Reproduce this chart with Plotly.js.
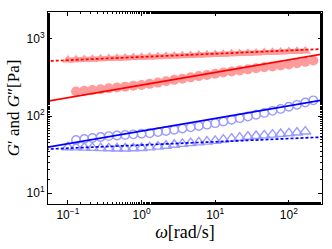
<!DOCTYPE html>
<html><head><meta charset="utf-8">
<script src="https://cdn.plot.ly/plotly-3.0.1.min.js"></script>
<style>html,body{margin:0;padding:0;background:#fff}#c{width:332px;height:249px}</style>
</head><body><div id="c"></div>
<script>
// frequencies (rad/s)
const omegaTri = [0.1,0.129,0.167,0.215,0.278,0.359,0.464,0.599,0.774,1.0,1.29,1.67,2.15,2.78,3.59,4.64,5.99,7.74,10,12.9,16.7,21.5,27.8,35.9,46.4,59.9,77.4,100,129,167];
const omegaCirc = [0.129,0.167,0.215,0.278,0.359,0.464,0.599,0.774,1.0,1.29,1.67,2.15,2.78,3.59,4.64,5.99,7.74,10,12.9,16.7,21.5,27.8,35.9,46.4,59.9,77.4,100,129,167,215];
// sample A (red)
const redGpp = [533,538,543,548,553,558,563,568,574,579,585,590,596,601,607,613,619,624,630,636,642,648,654,660,667,673,679,686,692,698];
const redGp = [208,213,218,223,229,235,241,247,253,262,272,283,295,306,318,330,342,355,367,379,391,404,417,429,441,454,468,485,505,525];
// sample B (blue)
const blueGpp = [39.5,39.3,39.0,38.7,38.4,38.2,38.0,38.0,38.2,38.6,39.3,40.2,41.3,42.5,43.6,44.6,45.6,46.6,47.7,49.5,51,52.5,54,55.2,56.3,57.5,58.6,59.8,61.2,63];
const blueGp = [49,50.5,52,53.5,55,56,57,58,59,60,62,64,66.5,69,71.5,74.5,77.5,81,85,89.5,94,99,104,110,117,124,132,140,150,160];
// model fits
const fitOmega = [0.05,300];
const redFitGp = [155,645];
const redFitGpp = [516,743];
const blueFitGp = [39.1,163];
const blueFitGpp = [37.2,53.5];
// axis ticks
const xTickVals = [0.1,1,10,100];
const xTickText = ['10<sup>−1</sup>','10<sup>0</sup>','10<sup>1</sup>','10<sup>2</sup>'];
const yTickVals = [10,100,1000];
const yTickText = ['10<sup>1</sup>','10<sup>2</sup>','10<sup>3</sup>'];

const lightRed = 'rgb(255,155,155)';
const lightBlue = 'rgb(155,155,255)';
const traces = [
  {x: omegaTri, y: redGpp, mode:'lines+markers', line:{color:lightRed,width:5},
   marker:{symbol:'triangle-up',size:10,color:lightRed}},
  {x: omegaCirc, y: redGp, mode:'lines+markers', line:{color:lightRed,width:5},
   marker:{symbol:'circle',size:10,color:lightRed}},
  {x: omegaCirc, y: blueGp, mode:'markers', marker:{symbol:'circle-open',size:8.5,color:lightBlue,line:{width:1.4}}},
  {x: omegaTri, y: blueGpp, mode:'markers', marker:{symbol:'triangle-up-open',size:10,color:lightBlue,line:{width:1.4}}},
  {x: fitOmega, y: redFitGpp, mode:'lines', line:{color:'#ff0000',width:1.7,dash:'3px,2px'}},
  {x: fitOmega, y: redFitGp, mode:'lines', line:{color:'#ff0000',width:1.7}},
  {x: fitOmega, y: blueFitGp, mode:'lines', line:{color:'#0000ff',width:1.7}},
  {x: fitOmega, y: blueFitGpp, mode:'lines', line:{color:'#0000ff',width:1.7,dash:'3px,2px'}}
];
const axBase = {type:'log', showgrid:false, zeroline:false, showline:true, linecolor:'#000', linewidth:1,
  mirror:'ticks', ticks:'inside', ticklen:4, tickcolor:'#000',
  minor:{ticks:'inside', ticklen:2, tickcolor:'#000', showgrid:false},
  tickfont:{family:'Liberation Sans, Arial, sans-serif', size:12, color:'#000'}};
const layout = {
  width:332, height:249, margin:{l:48,r:10,t:12,b:45},
  paper_bgcolor:'#fff', plot_bgcolor:'#fff', showlegend:false,
  xaxis: Object.assign({}, axBase, {range:[-1.27,2.45], tickvals:xTickVals, ticktext:xTickText,
    title:{text:'<i>ω</i>[rad/s]', font:{family:'Liberation Serif, serif', size:18, color:'#000'}, standoff:0}}),
  yaxis: Object.assign({}, axBase, {range:[0.86,3.35], tickvals:yTickVals, ticktext:yTickText,
    title:{text:'<i>G</i>′ and <i>G</i>″[Pa]', font:{family:'Liberation Serif, serif', size:17, color:'#000'}, standoff:2}})
};
Plotly.newPlot('c', traces, layout, {staticPlot:true, displayModeBar:false});
</script></body></html>
